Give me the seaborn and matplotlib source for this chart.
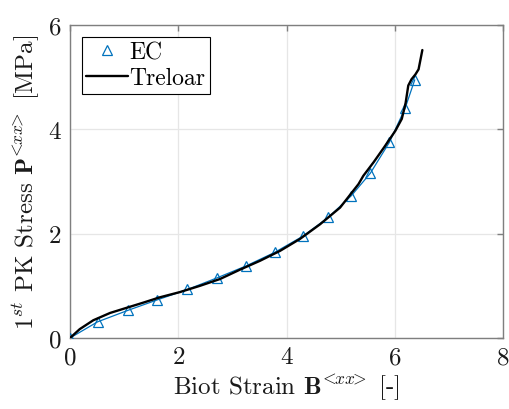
import numpy as np
import pandas as pd
import matplotlib
matplotlib.use("Agg")
import matplotlib.pyplot as plt
import seaborn as sns
from matplotlib.lines import Line2D

# EC data (markers)
ec_strain = [0.0, 0.51, 1.07, 1.61, 2.17, 2.71, 3.25, 3.78, 4.30, 4.77, 5.20, 5.55, 5.90, 6.19, 6.37]
ec_stress = [0.0, 0.31, 0.53, 0.73, 0.93, 1.15, 1.38, 1.64, 1.95, 2.31, 2.73, 3.16, 3.75, 4.40, 4.95]

# Treloar curve
tr_strain = [0.0, 0.18, 0.43, 0.74, 1.05, 1.36, 1.66, 2.03, 2.40, 2.77, 3.14, 3.51, 3.88, 4.25,
             4.62, 4.99, 5.33, 5.42, 5.61, 5.80, 6.01, 6.13, 6.20, 6.25, 6.31, 6.38, 6.44, 6.51]
tr_stress = [0.0, 0.17, 0.34, 0.48, 0.58, 0.68, 0.78, 0.88, 1.00, 1.13, 1.31, 1.48, 1.67, 1.90,
             2.18, 2.50, 2.95, 3.11, 3.37, 3.65, 3.97, 4.20, 4.50, 4.84, 4.96, 5.05, 5.15, 5.52]

sns.set_style("white")
plt.rcParams['font.family'] = ['serif']
plt.rcParams['font.serif'] = ['cmr10', 'DejaVu Serif']
plt.rcParams['mathtext.fontset'] = 'cm'
plt.rcParams['axes.formatter.use_mathtext'] = True

fig = plt.figure(figsize=(5.09, 4.10), dpi=100)
ax = fig.add_axes([70/509, 71/410, 433/509, 313/410])

ec = pd.DataFrame({"x": ec_strain, "y": ec_stress})
tr = pd.DataFrame({"x": tr_strain, "y": tr_stress})

blue = '#0072BD'
sns.lineplot(data=ec, x="x", y="y", ax=ax, color=blue, lw=0.9, marker='^',
             markersize=7, markerfacecolor='none', markeredgecolor=blue,
             markeredgewidth=0.9, legend=False, sort=False, zorder=3)
sns.lineplot(data=tr, x="x", y="y", ax=ax, color='black', lw=1.7,
             legend=False, sort=False, zorder=4)

ax.set_xlim(0, 8)
ax.set_ylim(0, 6)
ax.set_xticks([0, 2, 4, 6, 8])
ax.set_yticks([0, 2, 4, 6])
ax.grid(True, color='#e6e6e6', lw=0.9)
ax.set_axisbelow(True)
for s in ax.spines.values():
    s.set_visible(True)
    s.set_color('#7f7f7f')
    s.set_linewidth(1.0)
txtc = '#1a1a1a'
ax.tick_params(axis='both', direction='in', length=4, width=1.0, color='#7f7f7f',
               labelsize=18, labelcolor=txtc, top=True, right=True, pad=6)
ax.set_xlabel(r'Biot Strain $\mathbf{B}^{\!<\!\!xx\!\!>}$ [-]', fontsize=18, labelpad=2, color=txtc)
ax.set_ylabel(r'$1^{st}$ PK Stress $\mathbf{P}^{\!<\!\!xx\!\!>}$ [MPa]', fontsize=18, labelpad=4, color=txtc)

# Legend: EC shown as marker only
handles = [Line2D([], [], ls='none', marker='^', markersize=7, markerfacecolor='none',
                  markeredgecolor=blue, markeredgewidth=0.9),
           Line2D([], [], color='black', lw=1.7)]
leg = ax.legend(handles, ['EC', 'Treloar'], loc='upper left', bbox_to_anchor=(0.027, 0.962),
                fontsize=17, frameon=True, fancybox=False, framealpha=1,
                edgecolor='black', handlelength=1.75, handletextpad=0.08,
                borderpad=0.2, labelspacing=0.15, borderaxespad=0)
leg.get_frame().set_linewidth(0.8)
for t in leg.get_texts():
    t.set_color('black')

fig.savefig('out.png', dpi=100)
